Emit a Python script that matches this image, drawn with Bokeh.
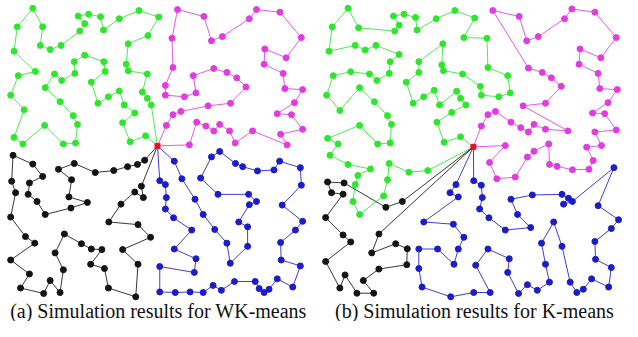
from bokeh.plotting import figure
from bokeh.embed import file_html
from bokeh.resources import INLINE
from bokeh.core.properties import value

# ---------------- data (picture pixel coordinates) ----------------
depot_a = (167, 157)
depot_b = (487, 158)

# (a) WK-means
a_green_x = [160.7,156.7,151.7,156.7,137.3,135.3,137.3,157.3,168.3,148.3,128.3,112.3,109.3,97.3,86.7,93.3,88.3,69.3,58.3,48.3,50.7,40.7,25,21.7,43.3,26,18.3,32,21.7,30.7,52.7,71.7,84,86,81.7,68.3,53.3,62.7,70,83.3,82.7,93.3,112.7,114,100,106.7,117.3,128.3,133.3,144,131.7,139.3,155]
a_green_y = [115,108.3,101.7,83.3,80,73.3,52.3,44,25,18.3,26.7,38.3,24.7,22,24,31.7,39.3,54,58.3,54,35,16,35,60,80.7,85,105,120,148.3,155,136,155,154,135,126,111.7,97.3,83.3,90,82.7,70.7,64,70.7,80.7,91.7,113.3,106.7,100.7,115,123.3,133.3,152.7,146.7]

a_magenta_x = [176,182.7,190.7,218.3,241,256.7,247.3,237.3,224,203.3,206,194.3,175,175,182.7,181.7,187.3,214,221.7,232.7,260,267.3,291,312.7,297.3,275.7,275,294.3,296,314,305.7,288.3,302.7,314,291.7,298.3,263.3,245.7,240,230,224,216,206.7,199.3]
a_magenta_y = [136,125,121.7,116,113.3,96.7,87.3,81.7,77.7,85,102.7,106.7,105,95,76.7,46.7,17.3,24.3,49.3,45,26.7,17.3,20,46,66.7,57.7,73.3,82.7,98.3,99.3,112.7,124,125,140,145,156,141.7,154,141.7,135,141.7,136.7,132.7,156]

a_black_x = [154,146.7,136.7,122.7,104,82.7,66.7,80,77.3,96,79.3,53.3,45,36,37.3,50.7,40.7,20.7,19.3,23.3,18.3,33.3,42.7,18.3,37.3,28.3,51.7,58.3,68.3,71.7,63.3,72.7,90,100,110.7,99.3,113.3,117.3,145,147.3,131.7,160,147.3,117.7,130,144,152.7,150.7]
a_black_y = [171.7,176,178.3,182.3,184.3,175,181,191.7,209.3,215,220.7,227.3,214,206.7,195,188.3,175.7,166.7,193.3,205,230,250,256.7,274,288.3,302.7,308.3,295,307.3,284,266.7,247.3,257.3,262.7,263.3,278.3,282.7,302.7,311.7,278.3,263.3,250.7,237.7,235,216.7,204.3,210,198.3]

a_blue_x = [184,191.7,205,213.3,225,237.3,240.7,258.3,258.3,249.3,260,267.3,259.3,228.3,210.7,221.7,230,246,253.3,268.3,285,290.7,311.7,312.7,293.3,314,306.7,291.7,292.3,311.7,304,288.3,280,275,270,266,245,231.7,223.3,213.3,200,185,169.3,169.3,204.3,206,184,201.7,183.3,175,176,175,169.3]
a_blue_y = [172.7,190.7,211.7,227.3,242.7,256.7,277.3,260,240,235,217.3,214,206.7,206.7,190,168.3,162.7,175,178.3,182.7,181.7,172.7,179.3,197.3,217.7,234.3,243.3,256,274,280,301.7,293.3,304,307.3,303.3,296,296,305,300,307.3,306.7,307.3,306.7,280.7,286.7,272.7,262.7,243.3,230.7,221.7,210,196.7,192.7]

# (b) K-means
b_green_x = [474,457.3,450,465,479.3,474,470,452.7,447.3,436.7,426,419,431.7,431.7,456,455,456.7,476,494,495,512.7,524.3,521.7,501.7,500.7,477.3,488.3,468.3,449.3,430,428.3,416.7,406,411.7,407.3,370.7,360,344,340.7,367.3,377.3,388.3,411.7,402.7,401.7,389.3,381.7,362.7,345,338.3,351.7,371.7,386.7,400,404,402.7,390,371.7,339.3,350,341.7,360,382.7,370,367.3,365,371.7,396,400,401.7,421.7,440.7]
b_green_y = [147.7,153.3,132.7,122.7,115,108.3,101,115,100,106.7,113.3,91.7,81.7,70.7,52.3,74,80,83.3,96,105,106.7,102.7,85,76.7,46.7,46,26,18.3,26.7,38.3,25.3,22,24,33.3,39.3,36,16,35,60,54,58.7,54,63.3,70.7,82.7,90,83.3,81,85,105,120.7,97.3,111.7,126,135,154,155,136,149.3,155,166.7,176,180.7,187.3,196.7,214,227.3,208.3,191.7,175,184,182.3]

b_magenta_x = [495,501.7,509.3,525,535,542.7,548.3,560,582.7,537.3,560,576,566,556.7,542.7,506.7,533.3,541,552.7,579.3,586.7,610,631.7,616,595,594,613.3,615,632.7,623.3,607.7,620,631.7,610,616.7,601.7,608.3,604,587.3,571.7,564,563.3,548.3,541.7,529.3,510.7,503.3,519.3]
b_magenta_y = [136.7,125,121.7,132.7,138.3,142.7,135,140,141.7,116,113.3,96,87.3,81.7,77.3,18.3,24.3,49.3,45,26.7,16.7,20,46,66.7,57.7,73.3,82.7,98.3,99.3,112.7,123.3,124,140.7,142.7,156.7,158.3,172,181,181.5,178,176,155,162.5,168.5,189,190.7,174,156.7]

b_black_x = [415,398.3,356,339.3,343.3,355,337.3,355,362.7,337.3,351.7,357,369,386,375.5,391.2,419.5,420,408.3,384,391.3]
b_black_y = [214,220,195,194,205,206.5,230.5,248.3,255.5,275.5,302.7,289.3,308,308,295,283.3,278.8,262.5,257.3,266.7,247.3]

b_blue_x = [487.3,495,496,493.3,502.7,519.3,545,531.7,525,546.7,576.7,583.3,578.3,587.3,629.3,613.3,634,626.7,610,610.7,626.7,624,606.7,598.3,591.7,585,576.7,568.3,556,560,564,551.7,541.7,532.7,521.7,523.3,501.7,489.3,504,487.3,464,435,431.7,431.7,450.7,467.3,471.7,477.3,466.7,436.7,471.7,463.3,469.3]
b_blue_y = [192.7,197.3,210,221.7,230.7,243.3,240.7,227.3,211.7,207.3,206.7,210.7,216.7,214,179.3,218.3,232.7,241.7,255,273.3,281.7,301.7,293.3,304,307.3,296.7,260,235,256.7,278.3,296.7,305,299.3,308.3,286.7,272.7,262.7,279.3,307.3,307.3,311.7,301.7,282.7,262.7,262.7,278.3,262.7,250.7,237.3,235,209.3,205,196.7]

captions = ["(a) Simulation results for WK-means", "(b) Simulation results for K-means"]
caption_x = [168, 488]
caption_y = [326, 326]

# ---------------- styling ----------------
GREEN = "#2ee62e"
MAGENTA = "#e03ce0"
BLACK = "#141414"
BLUE = "#1c1cc8"
RED = "#e8102a"

p = figure(width=622, height=321, x_range=(8, 638), y_range=(337, 8),
           output_backend="svg", toolbar_location=None, min_border=0,
           background_fill_color="white", border_fill_color="white")
p.axis.visible = False
p.grid.visible = False
p.outline_line_color = None

def route(depot, xs, ys, color):
    lx = [depot[0]] + list(xs) + [depot[0]]
    ly = [depot[1]] + list(ys) + [depot[1]]
    p.line(lx, ly, line_color=color, line_width=1.0, line_alpha=0.85)
    p.scatter(list(xs), list(ys), size=6, fill_color=color, line_color=color)

route(depot_a, a_green_x, a_green_y, GREEN)
route(depot_a, a_magenta_x, a_magenta_y, MAGENTA)
route(depot_a, a_black_x, a_black_y, BLACK)
route(depot_a, a_blue_x, a_blue_y, BLUE)

route(depot_b, b_green_x, b_green_y, GREEN)
route(depot_b, b_magenta_x, b_magenta_y, MAGENTA)
route(depot_b, b_black_x, b_black_y, BLACK)
route(depot_b, b_blue_x, b_blue_y, BLUE)

p.scatter([depot_a[0], depot_b[0]], [depot_a[1], depot_b[1]], marker="square",
          size=5, fill_color=RED, line_color=RED)

p.text(x=caption_x, y=caption_y, text=captions, text_font=value("Liberation Serif"),
       text_font_size="20px", text_align="center", text_baseline="middle",
       text_color="#111111")

open("out.html", "w").write(file_html(p, INLINE))
